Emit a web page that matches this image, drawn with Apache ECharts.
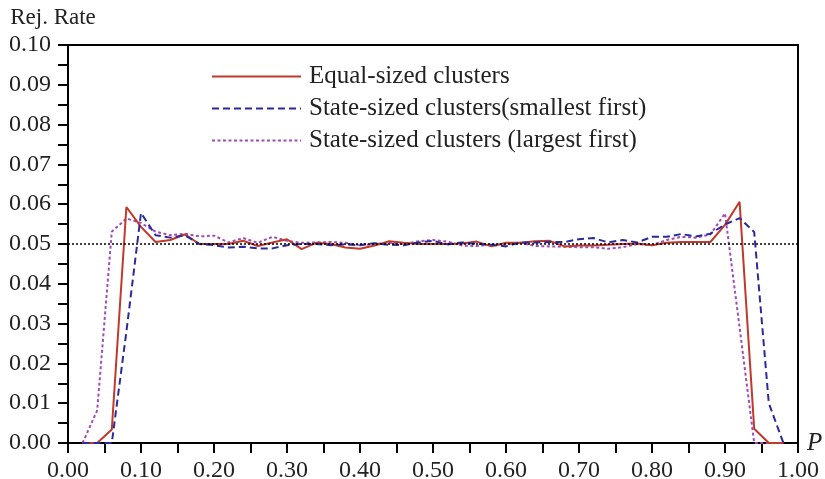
<!DOCTYPE html>
<html>
<head>
<meta charset="utf-8">
<script src="https://cdn.jsdelivr.net/npm/echarts@6/dist/echarts.min.js"></script>
<style>
html,body{margin:0;padding:0;background:#fff;}
#chart{width:825px;height:479px;}
</style>
</head>
<body>
<div id="chart"></div>
<script>
var pValues = [0.02,0.04,0.06,0.08,0.10,0.12,0.14,0.16,0.18,0.20,0.22,0.24,0.26,0.28,0.30,0.32,0.34,0.36,0.38,0.40,0.42,0.44,0.46,0.48,0.50,0.52,0.54,0.56,0.58,0.60,0.62,0.64,0.66,0.68,0.70,0.72,0.74,0.76,0.78,0.80,0.82,0.84,0.86,0.88,0.90,0.92,0.94,0.96,0.98];

var equalSized = [0,0,0.0034,0.0593,0.0543,0.0505,0.0510,0.0524,0.0500,0.0500,0.0500,0.0508,0.0495,0.0504,0.0512,0.0487,0.0503,0.0500,0.0491,0.0488,0.0496,0.0507,0.0503,0.0500,0.0500,0.0500,0.0501,0.0506,0.0494,0.0503,0.0503,0.0507,0.0508,0.0494,0.0496,0.0496,0.0498,0.0500,0.0501,0.0497,0.0503,0.0505,0.0505,0.0505,0.0548,0.0606,0.0036,0,0];

var smallestFirst = [0,0,0,0.0280,0.0578,0.0522,0.0516,0.0522,0.0500,0.0497,0.0491,0.0493,0.0489,0.0489,0.0497,0.0500,0.0500,0.0497,0.0499,0.0497,0.0502,0.0498,0.0497,0.0504,0.0508,0.0499,0.0504,0.0500,0.0498,0.0494,0.0504,0.0504,0.0505,0.0505,0.0512,0.0515,0.0504,0.0510,0.0504,0.0518,0.0518,0.0525,0.0519,0.0526,0.0549,0.0565,0.0530,0.0100,0];

var largestFirst = [0,0.0082,0.0531,0.0564,0.0553,0.0531,0.0522,0.0526,0.0519,0.0521,0.0504,0.0515,0.0503,0.0518,0.0508,0.0503,0.0504,0.0505,0.0503,0.0497,0.0500,0.0503,0.0500,0.0507,0.0510,0.0506,0.0496,0.0495,0.0499,0.0499,0.0503,0.0495,0.0494,0.0493,0.0492,0.0492,0.0488,0.0492,0.0500,0.0497,0.0510,0.0518,0.0516,0.0524,0.0577,0.0290,0,0,0];

var seriesNames = ['Equal-sized clusters','State-sized clusters(smallest first)','State-sized clusters (largest first)'];
var referenceLevel = 0.05;

function pairs(xs, ys){ return xs.map(function(x,i){ return [x, ys[i]]; }); }

var FONT = "'Liberation Serif', 'DejaVu Serif', serif";
var chart = echarts.init(document.getElementById('chart'), null, {renderer:'canvas'});
chart.setOption({
  animation:false,
  backgroundColor:'#fff',
  textStyle:{fontFamily:FONT},
  grid:{left:68,right:27,top:45,bottom:36,outerBoundsMode:'none',containLabel:false,show:true,borderColor:'#000',borderWidth:2,backgroundColor:'transparent'},
  legend:{
    orient:'vertical', left:206, top:59, itemGap:7, itemWidth:89, itemHeight:25,
    itemStyle:{opacity:0},
    textStyle:{fontFamily:FONT,fontSize:25,color:'#222',padding:[0,0,0,3]},
    data:seriesNames
  },
  xAxis:{
    type:'value', min:0, max:1, interval:0.1,
    name:'P', nameLocation:'end', nameGap:9,
    nameTextStyle:{fontFamily:FONT,fontSize:25,fontStyle:'italic',color:'#222'},
    axisLine:{show:true,lineStyle:{color:'#000',width:2}},
    axisTick:{show:true,inside:false,length:10,lineStyle:{color:'#000',width:2}},
    minorTick:{show:true,splitNumber:2,length:10,lineStyle:{color:'#000',width:2}},
    splitLine:{show:false},
    axisLabel:{margin:16,fontFamily:FONT,fontSize:24,color:'#222',formatter:function(v){return v.toFixed(2);}}
  },
  yAxis:{
    type:'value', min:0, max:0.1, interval:0.01,
    name:'Rej. Rate', nameLocation:'end', nameGap:16,
    nameTextStyle:{fontFamily:FONT,fontSize:23,color:'#222',padding:[0,30,0,0]},
    axisLine:{show:true,lineStyle:{color:'#000',width:2}},
    axisTick:{show:true,inside:false,length:10,lineStyle:{color:'#000',width:2}},
    minorTick:{show:true,splitNumber:2,length:10,lineStyle:{color:'#000',width:2}},
    splitLine:{show:false},
    axisLabel:{margin:17,fontFamily:FONT,fontSize:24,color:'#222',formatter:function(v){return v.toFixed(2);}}
  },
  series:[
    {
      name:seriesNames[0], type:'line', symbol:'none', data:pairs(pValues, equalSized), z:3,
      lineStyle:{color:'#c0392b',width:2}, itemStyle:{color:'#c0392b'},
      markLine:{silent:true,symbol:'none',label:{show:false},
        lineStyle:{color:'#000',type:[2,2],width:1.5},
        data:[{yAxis:referenceLevel}]}
    },
    {
      name:seriesNames[1], type:'line', symbol:'none', data:pairs(pValues, smallestFirst), z:4,
      lineStyle:{color:'#2a2a9c',width:2,type:[7,4]}, itemStyle:{color:'#2a2a9c'}
    },
    {
      name:seriesNames[2], type:'line', symbol:'none', data:pairs(pValues, largestFirst), z:2,
      lineStyle:{color:'#a04cb4',width:2,type:[3,2.5]}, itemStyle:{color:'#a04cb4'}
    }
  ]
});
</script>
</body>
</html>
